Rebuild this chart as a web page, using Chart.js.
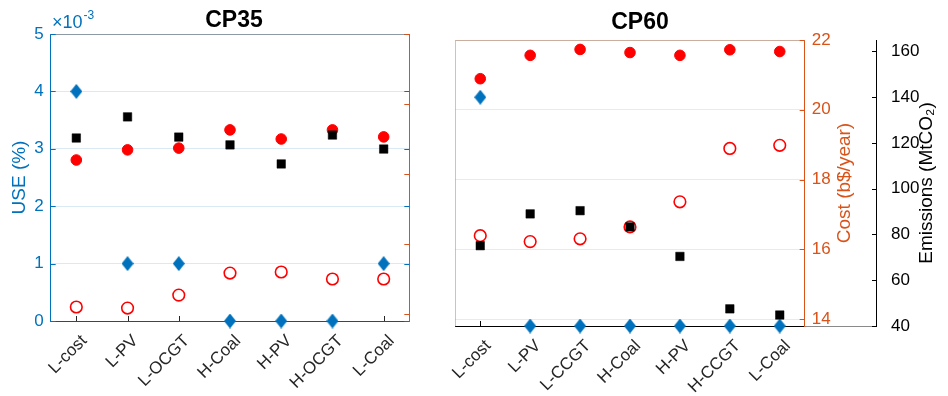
<!DOCTYPE html>
<html>
<head>
<meta charset="utf-8">
<script src="https://cdn.jsdelivr.net/npm/chart.js@4.4.1/dist/chart.umd.min.js"></script>
<style>
    html, body { margin: 0; padding: 0; background: #fff; }
    #wrap { position: relative; width: 948px; height: 396px; overflow: hidden; }
    .panel { position: absolute; top: 0; height: 396px; }
</style>
</head>
<body>
<div id="wrap">
    <div class="panel" style="left:0;width:425px"><canvas id="cp35" width="425" height="396"></canvas></div>
    <div class="panel" style="left:425px;width:523px"><canvas id="cp60" width="523" height="396"></canvas></div>
</div>
<script>
// ============================================================
// DATA
// ============================================================
const categoriesCP35 = ['L-cost', 'L-PV', 'L-OCGT', 'H-Coal', 'H-PV', 'H-OCGT', 'L-Coal'];
const categoriesCP60 = ['L-cost', 'L-PV', 'L-CCGT', 'H-Coal', 'H-PV', 'H-CCGT', 'L-Coal'];

// USE (%)
const useCP35 = [0.004, 0.001, 0.001, 0, 0, 0, 0.001];
const useCP60 = [0.004, 0, 0, 0, 0, 0, 0];
// cost (b$/year): filled and open markers
const costCP35 = [18.40, 18.69, 18.74, 19.26, 19.00, 19.26, 19.06];
const costOpenCP35 = [14.20, 14.17, 14.54, 15.17, 15.20, 15.00, 15.00];
const costCP60 = [20.89, 21.56, 21.73, 21.64, 21.56, 21.72, 21.67];
const costOpenCP60 = [16.39, 16.22, 16.30, 16.64, 17.36, 18.89, 18.98];
// emissions (MtCO2)
const emissionsCP35 = [119.7, 128.9, 120.1, 116.7, 108.4, 121.0, 114.9];
const emissionsCP60 = [75.1, 89.0, 90.4, 83.3, 70.4, 47.5, 44.8];

// tick labels
const useTicks = [0, 0.001, 0.002, 0.003, 0.004, 0.005];
const costTicks = [14, 16, 18, 20, 22];
const emissionTicks = [40, 60, 80, 100, 120, 140, 160];

// ============================================================
// STYLE
// ============================================================
const BLUE = '#0072BD';
const ORANGE = '#D95319';
const RED = '#FF0000';
const DARK = '#262626';
const FONT = '"Liberation Sans", Arial, Helvetica, sans-serif';
const TICK = 5;

// diamond marker (taller than wide, like matlab)
function diamond(w, h, color) {
    const c = document.createElement('canvas');
    c.width = w; c.height = h;
    const g = c.getContext('2d');
    g.fillStyle = color;
    g.beginPath();
    g.moveTo(w / 2, 0); g.lineTo(w, h / 2); g.lineTo(w / 2, h); g.lineTo(0, h / 2);
    g.closePath();
    g.fill();
    return c;
}
const diamondMarker = diamond(12, 15, BLUE);

function setTicks(values) {
    return scale => { scale.ticks = values.map(v => ({ value: v })); };
}

// ============================================================
// plugin: inward ticks, borders, free texts
// ============================================================
const decorPlugin = {
    id: 'decor',
    beforeDatasetsDraw(chart, args, o) {
        const ctx = chart.ctx, a = chart.chartArea;
        ctx.save();
        ctx.lineWidth = 1;
        (o.lines || []).forEach(l => {
            ctx.strokeStyle = l.color;
            ctx.beginPath();
            if (l.edge === 'top') {
                ctx.moveTo(a.left, Math.round(a.top) + 0.5); ctx.lineTo(a.right, Math.round(a.top) + 0.5);
            } else if (l.edge === 'bottomExt') {
                const s = chart.scales[l.to];
                ctx.moveTo(a.right, Math.round(a.bottom) + 0.5); ctx.lineTo(s.left, Math.round(a.bottom) + 0.5);
            }
            ctx.stroke();
        });
        (o.ticks || []).forEach(t => {
            const s = chart.scales[t.scale];
            ctx.strokeStyle = t.color;
            s.ticks.forEach((tk, i) => {
                const p = Math.round(s.getPixelForTick(i)) + 0.5;
                ctx.beginPath();
                if (t.side === 'left') { ctx.moveTo(a.left, p); ctx.lineTo(a.left + TICK, p); }
                else if (t.side === 'right') { ctx.moveTo(a.right, p); ctx.lineTo(a.right - TICK, p); }
                else if (t.side === 'bottom') { ctx.moveTo(p, a.bottom); ctx.lineTo(p, a.bottom - TICK); }
                else if (t.side === 'outer') { ctx.moveTo(s.left, p); ctx.lineTo(s.left - TICK + 1, p); }
                ctx.stroke();
            });
        });
        ctx.restore();
    },
    afterDraw(chart, args, o) {
        const ctx = chart.ctx;
        (o.texts || []).forEach(t => {
            ctx.save();
            ctx.font = t.font;
            ctx.fillStyle = t.color;
            ctx.textAlign = t.align || 'center';
            ctx.textBaseline = t.baseline || 'middle';
            ctx.translate(t.x, t.y);
            if (t.rotate) ctx.rotate(t.rotate);
            ctx.fillText(t.text, 0, 0);
            if (t.sup) {
                const w = ctx.measureText(t.text).width;
                ctx.font = t.supFont;
                ctx.textAlign = 'left';
                ctx.fillText(t.sup, w + 1, t.supDy);
            }
            ctx.restore();
        });
    }
};

// ============================================================
// datasets
// ============================================================
function buildDatasets(use, cost, costOpen, emissions) {
    return [
        { label: 'Emissions', data: emissions, yAxisID: 'y2', order: 0, pointStyle: 'rect',
          pointRadius: 6, backgroundColor: '#000', borderColor: '#000', borderWidth: 0.5 },
        { label: 'Cost', data: cost, yAxisID: 'y1', order: 1, pointStyle: 'circle',
          pointRadius: 5.3, backgroundColor: RED, borderColor: RED, borderWidth: 1 },
        { label: 'Cost (open)', data: costOpen, yAxisID: 'y1', order: 2, pointStyle: 'circle',
          pointRadius: 5.8, backgroundColor: 'rgba(0,0,0,0)', borderColor: RED, borderWidth: 1.6 },
        { label: 'USE', data: use, yAxisID: 'y', order: 3, pointStyle: diamondMarker,
          pointRadius: 7, backgroundColor: BLUE, borderColor: BLUE }
    ].map(d => Object.assign(d, { showLine: false, clip: false, pointHoverRadius: d.pointRadius }));
}

function xScale(height, color) {
    return {
        type: 'category',
        offset: true,
        grid: { display: false },
        border: { color: color, width: 1 },
        ticks: {
            autoSkip: false, maxRotation: 45, minRotation: 45,
            color: DARK, font: { family: FONT, size: 17 }, padding: 2, labelOffset: 8
        },
        afterFit: s => { s.height = height; }
    };
}

// ============================================================
// CP35
// ============================================================
function initCP35() {
    const ctx = document.getElementById('cp35').getContext('2d');
    new Chart(ctx, {
        type: 'line',
        data: { labels: categoriesCP35, datasets: buildDatasets(useCP35, costCP35, costOpenCP35, emissionsCP35) },
        plugins: [decorPlugin],
        options: {
            responsive: false,
            devicePixelRatio: 1,
            animation: false,
            layout: { padding: { top: 34, right: 5.7, bottom: 0, left: 0 } },
            plugins: {
                legend: { display: false },
                tooltip: { enabled: false },
                decor: {
                    lines: [{ edge: 'top', color: '#8d9aa6' }],
                    ticks: [
                        { scale: 'y', side: 'left', color: BLUE },
                        { scale: 'y', side: 'right', color: BLUE },
                        { scale: 'y1', side: 'right', color: ORANGE },
                        { scale: 'x', side: 'bottom', color: DARK }
                    ],
                    texts: [
                        { text: 'CP35', x: 234, y: 21, font: 'bold 23px ' + FONT, color: '#000' },
                        { text: '\u00d710', x: 52, y: 28, align: 'left', baseline: 'alphabetic',
                          font: '18px ' + FONT, color: BLUE, sup: '-3', supFont: '12px ' + FONT, supDy: -9 }
                    ]
                }
            },
            scales: {
                x: xScale(75, '#3c4650'),
                y: {
                    position: 'left', min: 0, max: 0.005,
                    afterBuildTicks: setTicks(useTicks),
                    grid: { color: 'rgba(0,114,189,0.15)', drawTicks: false },
                    border: { color: BLUE },
                    ticks: { color: BLUE, font: { family: FONT, size: 17 }, padding: 7,
                             callback: v => String(Math.round(v * 1000)) },
                    title: { display: true, text: 'USE (%)', color: BLUE,
                             font: { family: FONT, size: 19 }, padding: { top: 8, bottom: 0 } },
                    afterFit: s => { s.width = 50.7; }
                },
                y1: {
                    position: 'right', min: 13.8, max: 22,
                    afterBuildTicks: setTicks(costTicks),
                    grid: { drawOnChartArea: false, drawTicks: false },
                    border: { color: ORANGE },
                    ticks: { display: false },
                    afterFit: s => { s.width = 10; }
                },
                y2: { display: false, min: 40, max: 165 }
            }
        }
    });
}

// ============================================================
// CP60
// ============================================================
function initCP60() {
    const ctx = document.getElementById('cp60').getContext('2d');
    new Chart(ctx, {
        type: 'line',
        data: { labels: categoriesCP60, datasets: buildDatasets(useCP60, costCP60, costOpenCP60, emissionsCP60) },
        plugins: [decorPlugin],
        options: {
            responsive: false,
            devicePixelRatio: 1,
            animation: false,
            layout: { padding: { top: 40, right: 0, bottom: 0, left: 0 } },
            plugins: {
                legend: { display: false },
                tooltip: { enabled: false },
                decor: {
                    lines: [
                        { edge: 'top', color: '#c9aea0' },
                        { edge: 'bottomExt', to: 'y2', color: '#8a8a8a' }
                    ],
                    ticks: [
                        { scale: 'y1', side: 'right', color: ORANGE },
                        { scale: 'y2', side: 'outer', color: '#000' },
                        { scale: 'x', side: 'bottom', color: '#000' }
                    ],
                    texts: [
                        { text: 'CP60', x: 215, y: 22.5, font: 'bold 23px ' + FONT, color: '#000' },
                        { text: 'Cost (b$/year)', x: 420, y: 183, rotate: -Math.PI / 2,
                          font: '19px ' + FONT, color: ORANGE },
                        { text: 'Emissions (MtCO\u2082)', x: 502, y: 183, rotate: -Math.PI / 2,
                          font: '19px ' + FONT, color: '#000' }
                    ]
                }
            },
            scales: {
                x: xScale(70, '#000'),
                y: {
                    position: 'left', min: 0, max: 0.005,
                    grid: { display: false },
                    border: { color: 'rgba(0,114,189,0.35)' },
                    ticks: { display: false },
                    afterFit: s => { s.width = 30.3; }
                },
                y1: {
                    position: 'right', weight: 0, min: 13.8, max: 22,
                    afterBuildTicks: setTicks(costTicks),
                    grid: { color: 'rgba(217,83,25,0.15)', drawTicks: false },
                    border: { color: ORANGE },
                    ticks: { color: ORANGE, font: { family: FONT, size: 17 }, padding: 7 },
                    afterFit: s => { s.width = 71.3; }
                },
                y2: {
                    position: 'right', weight: 1, min: 40, max: 165,
                    afterBuildTicks: setTicks(emissionTicks),
                    grid: { display: false },
                    border: { color: '#000' },
                    ticks: { color: '#000', font: { family: FONT, size: 17 }, padding: 7 },
                    afterFit: s => { s.width = 72; }
                }
            }
        }
    });
}

// ============================================================
// RUN
// ============================================================
document.addEventListener('DOMContentLoaded', () => {
    initCP35();
    initCP60();
});
</script>
</body>
</html>
